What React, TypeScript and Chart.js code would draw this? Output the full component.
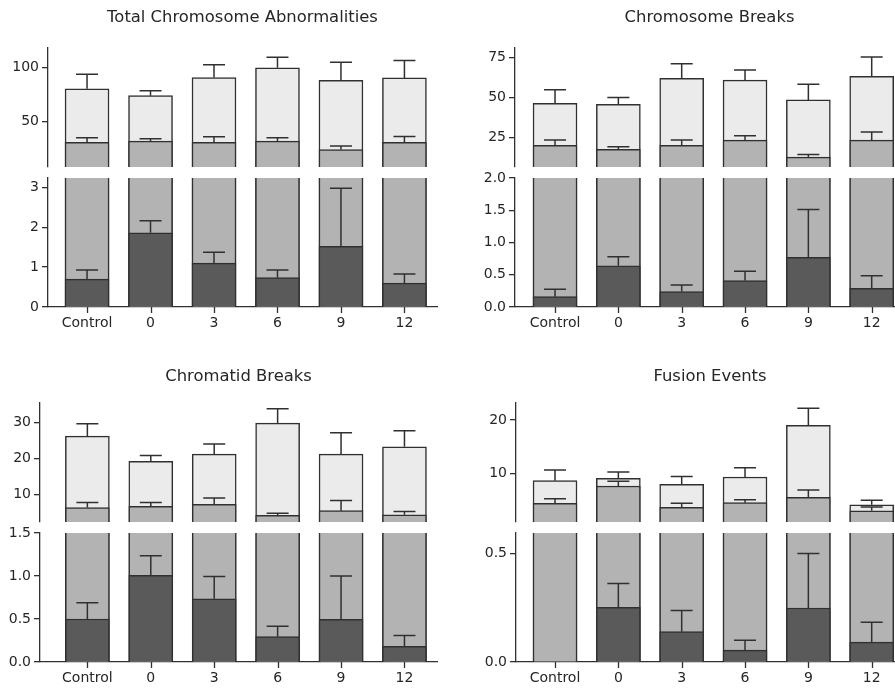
import React, { useEffect, useRef } from "react";
import { Chart, registerables } from "chart.js";

Chart.register(...registerables);

// ---------------- data ----------------
const categories = ["Control", "0", "3", "6", "9", "12"];

// Panel 1: Total Chromosome Abnormalities
const totalTitle = "Total Chromosome Abnormalities";
const totalLight = [80.2, 73.8, 90.4, 99.4, 88.0, 90.1];
const totalLightErr = [13.3, 4.6, 11.8, 9.6, 16.6, 16.1];
const totalMid = [30.9, 32.1, 30.9, 32.1, 24.4, 30.9];
const totalMidErr = [4.3, 2.2, 5.2, 3.1, 3.1, 5.5];
const totalDark = [0.7, 1.86, 1.1, 0.735, 1.52, 0.6];
const totalDarkErr = [0.23, 0.3, 0.27, 0.195, 1.46, 0.23];
const totalUpperTicks = [50, 100];
const totalLowerTicks = [0, 1, 2, 3];

// Panel 2: Chromosome Breaks
const chromoTitle = "Chromosome Breaks";
const chromoLight = [46.3, 45.8, 61.9, 60.8, 48.5, 63.1];
const chromoLightErr = [8.5, 4.2, 9.1, 6.3, 9.8, 12.1];
const chromoMid = [20.2, 17.7, 20.2, 23.5, 12.9, 23.5];
const chromoMidErr = [3.3, 1.7, 3.3, 2.75, 1.7, 5.0];
const chromoDark = [0.16, 0.64, 0.24, 0.41, 0.77, 0.29];
const chromoDarkErr = [0.115, 0.14, 0.1, 0.146, 0.74, 0.193];
const chromoUpperTicks = [25, 50, 75];
const chromoLowerTicks = [0, 0.5, 1.0, 1.5, 2.0];

// Panel 3: Chromatid Breaks
const chromaTitle = "Chromatid Breaks";
const chromaLight = [26.3, 19.3, 21.3, 29.9, 21.3, 23.3];
const chromaLightErr = [3.4, 1.6, 2.8, 4.0, 5.9, 4.5];
const chromaMid = [6.4, 6.76, 7.3, 4.26, 5.56, 4.4];
const chromaMidErr = [1.4, 1.04, 1.8, 0.54, 2.84, 0.95];
const chromaDark = [0.5, 1.007, 0.735, 0.295, 0.497, 0.183];
const chromaDarkErr = [0.19, 0.229, 0.26, 0.121, 0.502, 0.124];
const chromaUpperTicks = [10, 20, 30];
const chromaLowerTicks = [0, 0.5, 1.0, 1.5];

// Panel 4: Fusion Events
const fusionTitle = "Fusion Events";
const fusionLight = [8.7, 9.13, 8.0, 9.38, 19.0, 4.22];
const fusionLightErr = [2.0, 1.17, 1.5, 1.72, 3.2, 0.81];
const fusionMid = [4.47, 7.7, 3.73, 4.6, 5.6, 3.1];
const fusionMidErr = [0.87, 0.87, 0.74, 0.56, 1.36, 0.7];
const fusionDark = [0, 0.252, 0.14, 0.055, 0.249, 0.092];
const fusionDarkErr = [0, 0.11, 0.098, 0.045, 0.251, 0.091];
const fusionUpperTicks = [10, 20];
const fusionLowerTicks = [0, 0.5];

// ---------------- styling / layout ----------------
const FONT = "'DejaVu Sans', sans-serif";
const INK = "#303030";
const TEXT = "#262626";
const LIGHT = "#ebebeb";
const MID = "#b3b3b3";
const DARK = "#5a5a5a";
const PAD = 15;
const XH = 30;
const CAP = 22;
const BAR_W = 44;
const TITLE_SIZE = 16.4;
const TICK_LEN = 6;

type Panel = {
  title: string;
  light: number[]; lightErr: number[];
  mid: number[]; midErr: number[];
  dark: number[]; darkErr: number[];
  upperTicks: number[]; lowerTicks: number[];
  upperRange: [number, number]; lowerRange: [number, number];
  lowerDecimals: number;
  box: {
    left: number; right: number; yW: number;
    titleY: number; upperTop: number; upperBottom: number;
    lowerTop: number; lowerBottom: number;
    xMin: number; xMax: number;
  };
};

const panels: Panel[] = [
  {
    title: totalTitle,
    light: totalLight, lightErr: totalLightErr,
    mid: totalMid, midErr: totalMidErr,
    dark: totalDark, darkErr: totalDarkErr,
    upperTicks: totalUpperTicks, lowerTicks: totalLowerTicks,
    upperRange: [8.3, 117.6], lowerRange: [0, 3.235],
    lowerDecimals: 0,
    box: { left: 48, right: 437, yW: 48, titleY: 18, upperTop: 48, upperBottom: 167, lowerTop: 178, lowerBottom: 307, xMin: -0.615, xMax: 5.513 },
  },
  {
    title: chromoTitle,
    light: chromoLight, lightErr: chromoLightErr,
    mid: chromoMid, midErr: chromoMidErr,
    dark: chromoDark, darkErr: chromoDarkErr,
    upperTicks: chromoUpperTicks, lowerTicks: chromoLowerTicks,
    upperRange: [6.75, 80.8], lowerRange: [0, 2.0],
    lowerDecimals: 1,
    box: { left: 515, right: 904, yW: 60, titleY: 18, upperTop: 48, upperBottom: 167, lowerTop: 178, lowerBottom: 307, xMin: -0.632, xMax: 5.51 },
  },
  {
    title: chromaTitle,
    light: chromaLight, lightErr: chromaLightErr,
    mid: chromaMid, midErr: chromaMidErr,
    dark: chromaDark, darkErr: chromaDarkErr,
    upperTicks: chromaUpperTicks, lowerTicks: chromaLowerTicks,
    upperRange: [2.4, 35.5], lowerRange: [0, 1.5],
    lowerDecimals: 1,
    box: { left: 40, right: 437, yW: 40, titleY: 376.5, upperTop: 403, upperBottom: 522, lowerTop: 533, lowerBottom: 662, xMin: -0.747, xMax: 5.513 },
  },
  {
    title: fusionTitle,
    light: fusionLight, lightErr: fusionLightErr,
    mid: fusionMid, midErr: fusionMidErr,
    dark: fusionDark, darkErr: fusionDarkErr,
    upperTicks: fusionUpperTicks, lowerTicks: fusionLowerTicks,
    upperRange: [1.0, 23.17], lowerRange: [0, 0.595],
    lowerDecimals: 1,
    box: { left: 516, right: 904, yW: 60, titleY: 376.5, upperTop: 403, upperBottom: 522, lowerTop: 533, lowerBottom: 662, xMin: -0.616, xMax: 5.51 },
  },
];

const errorBarPlugin = {
  id: "errorBars",
  afterDatasetsDraw(chart: any) {
    const { ctx, chartArea } = chart;
    const yScale = chart.scales.y;
    ctx.save();
    ctx.beginPath();
    ctx.rect(chartArea.left, chartArea.top, chartArea.right - chartArea.left, chartArea.bottom - chartArea.top);
    ctx.clip();
    ctx.strokeStyle = INK;
    ctx.lineWidth = 1.5;
    chart.data.datasets.forEach((ds: any, di: number) => {
      const errs: number[] = ds.errors;
      if (!errs) return;
      const meta = chart.getDatasetMeta(di);
      meta.data.forEach((bar: any, i: number) => {
        const v = ds.data[i].y;
        const e = errs[i];
        if (!e || !v) return;
        const yTop = yScale.getPixelForValue(v + e);
        const yBase = yScale.getPixelForValue(v);
        ctx.beginPath();
        ctx.moveTo(bar.x, yBase);
        ctx.lineTo(bar.x, yTop);
        ctx.moveTo(bar.x - CAP / 2, yTop);
        ctx.lineTo(bar.x + CAP / 2, yTop);
        ctx.stroke();
      });
    });
    ctx.restore();
  },
};

// tick marks under the category axis, placed through the x scale
const xTickPlugin = {
  id: "xTickMarks",
  afterDraw(chart: any) {
    const xs = chart.scales.x;
    if (!xs || !xs.options.display) return;
    const { ctx } = chart;
    ctx.save();
    ctx.strokeStyle = INK;
    ctx.lineWidth = 1.3;
    xs.ticks.forEach((t: any) => {
      const px = Math.round(xs.getPixelForValue(t.value)) + 0.5;
      ctx.beginPath();
      ctx.moveTo(px, xs.top);
      ctx.lineTo(px, xs.top + TICK_LEN);
      ctx.stroke();
    });
    ctx.restore();
  },
};

function makeDatasets(p: Panel) {
  const mk = (vals: number[], errs: number[], color: string, order: number) => ({
    data: vals.map((v, i) => ({ x: i, y: v })),
    errors: errs,
    backgroundColor: color,
    borderColor: INK,
    borderWidth: 1.5,
    barThickness: BAR_W,
    grouped: false,
    clip: 0,
    order,
  });
  return [
    mk(p.light, p.lightErr, LIGHT, 3),
    mk(p.mid, p.midErr, MID, 2),
    mk(p.dark, p.darkErr, DARK, 1),
  ];
}

type Spec = { left: number; top: number; width: number; height: number; config: any };

function buildSpecs(p: Panel): Spec[] {
  const b = p.box;
  const tickFont = { family: FONT, size: 14 };
  const yAxis = (range: [number, number], ticks: number[], decimals: number) => ({
    type: "linear",
    min: range[0],
    max: range[1],
    afterBuildTicks: (s: any) => { s.ticks = ticks.map((v) => ({ value: v })); },
    afterFit: (s: any) => { s.width = b.yW; },
    border: { display: true, color: INK, width: 1.3 },
    grid: { display: true, offset: false, drawOnChartArea: false, drawTicks: true, tickLength: TICK_LEN, color: INK, lineWidth: 1.3 },
    ticks: {
      font: tickFont, color: TEXT, padding: 3,
      callback: (v: number) => (decimals ? Number(v).toFixed(decimals) : String(v)),
    },
  });
  const xAxis = (show: boolean) => ({
    type: "linear",
    min: b.xMin,
    max: b.xMax,
    display: show,
    offset: false,
    afterBuildTicks: (s: any) => { s.ticks = categories.map((_, i) => ({ value: i })); },
    afterFit: (s: any) => { if (show) s.height = XH; },
    border: { display: true, color: INK, width: 1.3 },
    grid: { display: false, drawOnChartArea: false, drawTicks: true, tickLength: TICK_LEN },
    ticks: { font: tickFont, color: TEXT, padding: 2, autoSkip: false, maxRotation: 0, callback: (v: number) => categories[v] },
  });

  const half = (TITLE_SIZE * 1.2) / 2;
  const upperCanvasTop = Math.round(b.titleY - half - 8);
  const titlePadTop = b.titleY - half - upperCanvasTop;
  const titlePadBottom = b.upperTop - upperCanvasTop - titlePadTop - 2 * half;

  const common = (padding: any, plugins: any, scales: any) => ({
    type: "bar",
    data: { datasets: makeDatasets(p) },
    options: {
      responsive: false,
      maintainAspectRatio: false,
      animation: false,
      events: [],
      layout: { padding },
      plugins: { legend: { display: false }, tooltip: { enabled: false }, ...plugins },
      scales,
    },
    plugins: [errorBarPlugin, xTickPlugin],
  });

  const upper: Spec = {
    left: b.left - b.yW,
    top: upperCanvasTop,
    width: b.right - b.left + b.yW + PAD,
    height: b.upperBottom - upperCanvasTop + PAD,
    config: common(
      { top: 0, left: 0, right: PAD, bottom: PAD },
      {
        title: {
          display: true,
          text: p.title,
          fullSize: false,
          color: TEXT,
          font: { family: FONT, size: TITLE_SIZE, weight: "normal", lineHeight: 1.2 },
          padding: { top: titlePadTop, bottom: titlePadBottom },
        },
      },
      { x: xAxis(false), y: yAxis(p.upperRange, p.upperTicks, 0) }
    ),
  };
  const lower: Spec = {
    left: b.left - b.yW,
    top: b.lowerTop - PAD,
    width: b.right - b.left + b.yW + PAD,
    height: b.lowerBottom - b.lowerTop + PAD + XH + 5,
    config: common(
      { top: PAD, left: 0, right: PAD, bottom: 5 },
      { title: { display: false } },
      { x: xAxis(true), y: yAxis(p.lowerRange, p.lowerTicks, p.lowerDecimals) }
    ),
  };
  return [upper, lower];
}

function SubChart({ spec }: { spec: Spec }) {
  const ref = useRef<HTMLCanvasElement | null>(null);
  useEffect(() => {
    if (!ref.current) return;
    const chart = new Chart(ref.current, spec.config);
    return () => chart.destroy();
  }, [spec]);
  return (
    <canvas
      ref={ref}
      width={spec.width}
      height={spec.height}
      style={{ position: "absolute", left: spec.left, top: spec.top, width: spec.width, height: spec.height }}
    />
  );
}

const allSpecs: Spec[] = panels.flatMap((p) => buildSpecs(p));

export default function App() {
  return (
    <div
      style={{
        position: "fixed",
        left: 0,
        top: 0,
        width: 895,
        height: 690,
        overflow: "hidden",
        background: "#ffffff",
      }}
    >
      {allSpecs.map((s, i) => (
        <SubChart key={i} spec={s} />
      ))}
    </div>
  );
}
